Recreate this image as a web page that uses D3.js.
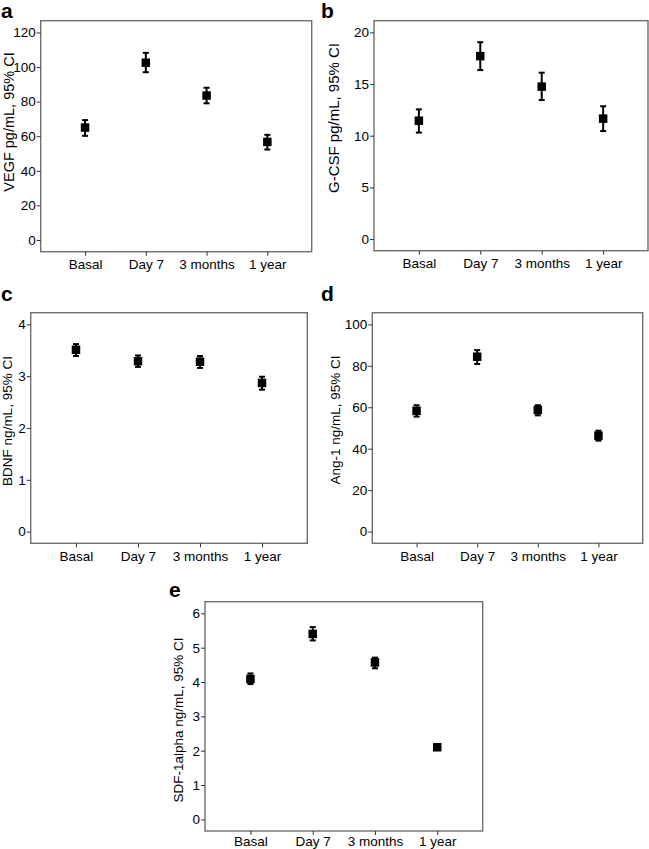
<!DOCTYPE html>
<html>
<head>
<meta charset="utf-8">
<script src="https://cdn.jsdelivr.net/npm/d3@7"></script>
<style>
  html, body { margin: 0; padding: 0; background: #fff; }
  svg { display: block; }
  text { font-family: "Liberation Sans", Arial, Helvetica, sans-serif; fill: #000; }
</style>
</head>
<body>
<script>
// ---- data ----
const categories = ["Basal", "Day 7", "3 months", "1 year"];

const vegfMean = [65.0, 102.5, 83.5, 56.7];
const vegfLow  = [60.2, 97.0, 79.0, 52.3];
const vegfHigh = [69.3, 108.2, 88.0, 60.8];
const vegfTicks = [0, 20, 40, 60, 80, 100, 120];

const gcsfMean = [11.45, 17.7, 14.75, 11.65];
const gcsfLow  = [10.3, 16.35, 13.45, 10.45];
const gcsfHigh = [12.55, 19.05, 16.1, 12.85];
const gcsfTicks = [0, 5, 10, 15, 20];

const bdnfMean = [3.51, 3.29, 3.28, 2.87];
const bdnfLow  = [3.39, 3.18, 3.16, 2.74];
const bdnfHigh = [3.62, 3.40, 3.39, 2.99];
const bdnfTicks = [0, 1, 2, 3, 4];

const ang1Mean = [58.3, 84.4, 58.7, 46.3];
const ang1Low  = [55.5, 80.9, 56.1, 43.9];
const ang1High = [61.0, 87.6, 61.0, 48.7];
const ang1Ticks = [0, 20, 40, 60, 80, 100];

const sdfMean = [4.09, 5.40, 4.57, 2.10];
const sdfLow  = [3.94, 5.21, 4.40, 2.05];
const sdfHigh = [4.25, 5.60, 4.71, 2.15];
const sdfTicks = [0, 1, 2, 3, 4, 5, 6];

const panelLetters = ["a", "b", "c", "d", "e"];
const yTitles = [
  "VEGF pg/mL, 95% CI",
  "G-CSF pg/mL, 95% CI",
  "BDNF ng/mL, 95% CI",
  "Ang-1 ng/mL, 95% CI",
  "SDF-1alpha ng/mL, 95% CI"
];

// ---- layout (positions only) ----
const layout = [
  { x0: 40.7, x1: 311.7, y0: 20.7, y1: 251.7, titleX: 9, titleY: 122, titleSize: 14.5, letterX: 1, letterY: 18, xPad: 4 },
  { x0: 374, x1: 648, y0: 20.7, y1: 250.7, titleX: 334, titleY: 118, titleSize: 15, letterX: 321, letterY: 18, xPad: 4 },
  { x0: 30.7, x1: 307.3, y0: 312.7, y1: 543.3, titleX: 7.5, titleY: 421, titleSize: 13.5, letterX: 1, letterY: 301, xPad: 4 },
  { x0: 372.3, x1: 642.7, y0: 312.7, y1: 543.3, titleX: 335, titleY: 420, titleSize: 13.5, letterX: 321, letterY: 301, xPad: 4 },
  { x0: 205, x1: 482.7, y0: 601.7, y1: 831, titleX: 178.3, titleY: 720, titleSize: 13.5, letterX: 169, letterY: 597, xPad: 1.5 }
];

const panels = [
  { mean: vegfMean, low: vegfLow, high: vegfHigh, ticks: vegfTicks },
  { mean: gcsfMean, low: gcsfLow, high: gcsfHigh, ticks: gcsfTicks },
  { mean: bdnfMean, low: bdnfLow, high: bdnfHigh, ticks: bdnfTicks },
  { mean: ang1Mean, low: ang1Low, high: ang1High, ticks: ang1Ticks },
  { mean: sdfMean, low: sdfLow, high: sdfHigh, ticks: sdfTicks }
];

const svg = d3.select("body").append("svg")
  .attr("width", 649).attr("height", 849);

panels.forEach((p, i) => {
  const L = layout[i];
  const tmax = d3.max(p.ticks);
  const pad = tmax * 0.0565;
  const y = d3.scaleLinear().domain([-pad, tmax + pad]).range([L.y1, L.y0]);
  const x = d3.scalePoint().domain(categories).range([L.x0, L.x1]).padding(0.73);

  const g = svg.append("g");

  // frame
  g.append("rect")
    .attr("x", L.x0).attr("y", L.y0)
    .attr("width", L.x1 - L.x0).attr("height", L.y1 - L.y0)
    .attr("fill", "none").attr("stroke", "#6e6e6e").attr("stroke-width", 1.4);

  // y axis
  const ya = g.append("g").attr("transform", `translate(${L.x0},0)`)
    .call(d3.axisLeft(y).tickValues(p.ticks).tickSize(4).tickPadding(1).tickFormat(d3.format("d")));
  ya.select(".domain").remove();
  ya.selectAll("line").attr("stroke", "#333");
  ya.selectAll("text").style("font-size", "13.5px").attr("fill", "#000");

  // x axis
  const xa = g.append("g").attr("transform", `translate(0,${L.y1})`)
    .call(d3.axisBottom(x).tickSize(4).tickPadding(L.xPad));
  xa.select(".domain").remove();
  xa.selectAll("line").attr("stroke", "#333");
  xa.selectAll("text").style("font-size", "13.5px").attr("fill", "#000");

  // y title
  g.append("text")
    .attr("transform", `translate(${L.titleX},${L.titleY}) rotate(-90)`)
    .attr("text-anchor", "middle").attr("dy", "0.35em")
    .style("font-size", L.titleSize + "px")
    .text(yTitles[i]);

  // panel letter
  g.append("text")
    .attr("x", L.letterX).attr("y", L.letterY)
    .style("font-size", "21px").style("font-weight", "bold").attr("fill", "#000")
    .text(panelLetters[i]);

  // error bars
  const capW = 6;
  categories.forEach((c, j) => {
    const cx = x(c);
    g.append("line")
      .attr("x1", cx).attr("x2", cx)
      .attr("y1", y(p.low[j])).attr("y2", y(p.high[j]))
      .attr("stroke", "#000").attr("stroke-width", 2);
    [p.low[j], p.high[j]].forEach(v => {
      g.append("line")
        .attr("x1", cx - capW / 2).attr("x2", cx + capW / 2)
        .attr("y1", y(v)).attr("y2", y(v))
        .attr("stroke", "#000").attr("stroke-width", 2);
    });
    const s = 8.5;
    g.append("rect")
      .attr("x", cx - s / 2).attr("y", y(p.mean[j]) - s / 2)
      .attr("width", s).attr("height", s)
      .attr("fill", "#000");
  });
});
</script>
</body>
</html>
